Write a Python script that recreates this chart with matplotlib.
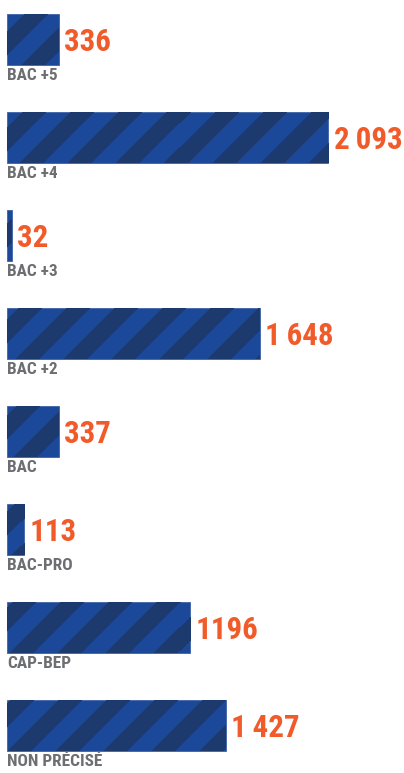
import numpy as np
import matplotlib
matplotlib.use("Agg")
import matplotlib.pyplot as plt
from matplotlib import font_manager

# education level -> number of people
categories = ["BAC +5", "BAC +4", "BAC +3", "BAC +2", "BAC", "BAC-PRO", "CAP-BEP", "NON PRÉCISÉ"]
values = [336, 2093, 32, 1648, 337, 113, 1196, 1427]
value_labels = ["336", "2\u2009093", "32", "1\u2009648", "337", "113", "1196", "1\u2009427"]

BLUE = "#1b4898"
NAVY = "#1c3a6e"
ORANGE = "#f15a29"
GREY = "#6d6e71"

names = {f.name for f in font_manager.fontManager.ttflist}
FONT = [n for n in ["Roboto Condensed", "Liberation Sans Narrow", "Open Sans Condensed"] if n in names]
FONT = FONT[:1] + ["DejaVu Sans"]

W, H = 404, 773
fig = plt.figure(figsize=(W / 100, H / 100), dpi=100)
ax = fig.add_axes([0, 0, 1, 1])
ax.axis("off")

# 1 px = 1/0.1534 units on x; rows are 98 px apart, first bar centre at 39.5 px
px_x = 0.1534
xlim = (-7 / px_x, (W - 7) / px_x)
ylim = ((H - 39.5) / 98, -39.5 / 98)
ax.set_xlim(*xlim)
ax.set_ylim(*ylim)

y = np.arange(len(categories))
bars = ax.barh(y, values, height=0.52, color=BLUE, edgecolor="#3d62a8", linewidth=0.6)

# diagonal stripes, built in pixel space and clipped to every bar
yy, xx = np.mgrid[0:H, 0:W]
stripes = ((xx + yy + 10) % 48) < 24
img = np.zeros((H, W, 4))
img[stripes] = matplotlib.colors.to_rgba(NAVY)
for b in bars:
    im = ax.imshow(img, extent=(xlim[0], xlim[1], ylim[0], ylim[1]), origin="upper",
                   aspect="auto", interpolation="nearest", zorder=2.5)
    im.set_clip_path(b)

val_texts, cat_texts = [], []
for yi, v, lab, cat in zip(y, values, value_labels, categories):
    val_texts.append(ax.annotate(lab, (v, yi), xytext=(4, -1.5), textcoords="offset points",
                                 va="center", ha="left", color=ORANGE, fontsize=28,
                                 fontweight="bold", fontstretch="condensed", family=FONT))
    cat_texts.append(ax.annotate(cat, (0, yi + 0.26), xytext=(0, -2), textcoords="offset points",
                                 va="top", ha="left", color=GREY, fontsize=15,
                                 fontweight="bold", fontstretch="condensed", family=FONT))

ax.set_xlim(*xlim)
ax.set_ylim(*ylim)

# shrink the labels so the widest value fits inside the picture
fig.canvas.draw()
r = fig.canvas.get_renderer()
right = max(t.get_window_extent(r).x1 for t in val_texts)
if right > W - 2:
    k = (W - 2 - min(t.get_window_extent(r).x0 for t in val_texts if t.get_window_extent(r).x1 == right)) / \
        max(t.get_window_extent(r).width for t in val_texts if t.get_window_extent(r).x1 == right)
    for t in val_texts:
        t.set_fontsize(t.get_fontsize() * k)
# category names: "NON PRÉCISÉ" is about 94 px wide in the original
wcat = cat_texts[-1].get_window_extent(r).width
if wcat > 96:
    for t in cat_texts:
        t.set_fontsize(t.get_fontsize() * 96 / wcat)

fig.savefig("out.png", dpi=100)
